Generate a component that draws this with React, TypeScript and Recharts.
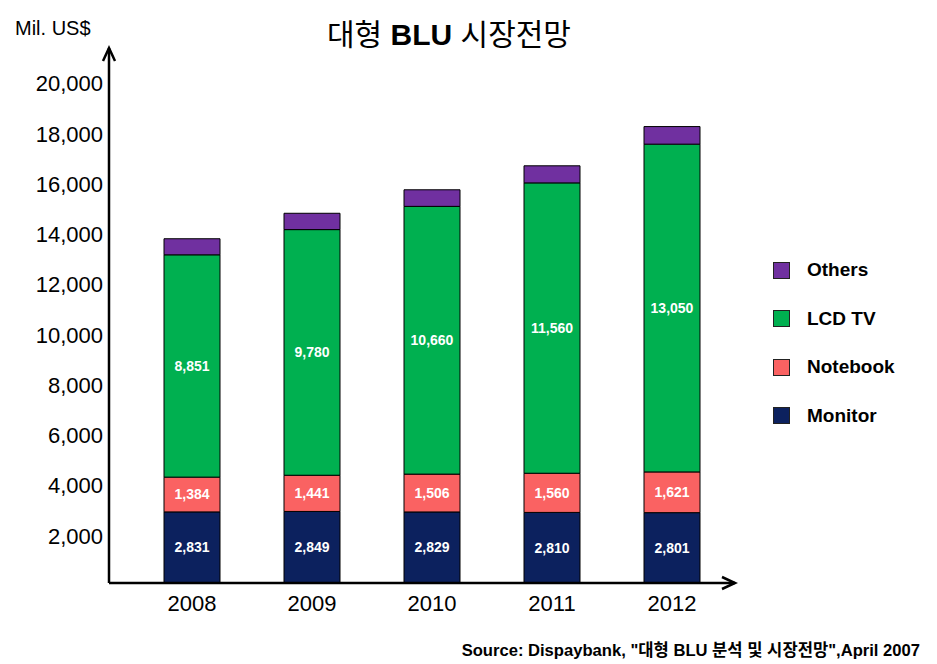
import { Bar, BarChart, LabelList, XAxis, YAxis } from "recharts";

const YEARS = ["2008", "2009", "2010", "2011", "2012"];
const MONITOR = [2831, 2849, 2829, 2810, 2801];
const NOTEBOOK = [1384, 1441, 1506, 1560, 1621];
const LCD_TV = [8851, 9780, 10660, 11560, 13050];
const OTHERS = [640, 650, 660, 680, 700];
const Y_TICKS = [2000, 4000, 6000, 8000, 10000, 12000, 14000, 16000, 18000, 20000];

// stack order bottom → top
const SERIES = [
  { key: "monitor", label: "Monitor", color: "#0C215E", values: MONITOR, showLabel: true },
  { key: "notebook", label: "Notebook", color: "#FA6262", values: NOTEBOOK, showLabel: true },
  { key: "lcd", label: "LCD TV", color: "#00B050", values: LCD_TV, showLabel: true },
  { key: "others", label: "Others", color: "#7030A0", values: OTHERS, showLabel: false },
];

const data = YEARS.map((year, i) => {
  const row: Record<string, string | number> = { year };
  for (const s of SERIES) row[s.key] = s.values[i];
  return row;
});

const FONT = '"Liberation Sans", Arial, "Noto Sans CJK KR", sans-serif';

function YArrow(props: any) {
  const vb = props.viewBox ?? {};
  const x = vb.x + vb.width;
  const y = vb.y;
  return (
    <polyline
      points={`${x - 6},${y + 13} ${x},${y} ${x + 6},${y + 13}`}
      fill="none"
      stroke="#000"
      strokeWidth={2.5}
    />
  );
}

function XArrow(props: any) {
  const vb = props.viewBox ?? {};
  const x = vb.x + vb.width;
  const y = vb.y;
  return (
    <polyline
      points={`${x - 13},${y - 6} ${x},${y} ${x - 13},${y + 6}`}
      fill="none"
      stroke="#000"
      strokeWidth={2.5}
    />
  );
}

function LegendBox() {
  const items = [...SERIES].reverse();
  return (
    <div style={{ position: "absolute", left: 773, top: 246 }}>
      {items.map((s) => (
        <div
          key={s.key}
          style={{ display: "flex", alignItems: "center", height: 48.5 }}
        >
          <span
            style={{
              width: 15,
              height: 15,
              background: s.color,
              border: "1px solid #222",
              marginRight: 17,
            }}
          />
          <span style={{ fontFamily: FONT, fontWeight: "bold", fontSize: 19, color: "#000" }}>
            {s.label}
          </span>
        </div>
      ))}
    </div>
  );
}

export default function App() {
  return (
    <div
      style={{
        position: "absolute",
        left: 0,
        top: 0,
        width: 937,
        height: 664,
        background: "#fff",
        fontFamily: FONT,
      }}
    >
      <div
        style={{
          position: "absolute",
          left: 15,
          top: 17,
          fontSize: 20,
          fontFamily: '"Liberation Sans Narrow", "Liberation Sans", Arial, sans-serif',
        }}
      >
        Mil. US$
      </div>
      <div
        style={{
          position: "absolute",
          left: 0,
          width: 898,
          top: 10,
          textAlign: "center",
          fontSize: 30,
          fontFamily: FONT,
        }}
      >
        대형 <b>BLU</b> 시장전망
      </div>
      <div
        style={{
          position: "absolute",
          right: 17,
          top: 637,
          fontSize: 16.6,
          fontWeight: "bold",
          fontFamily: FONT,
        }}
      >
        Source: Dispaybank, "대형 BLU 분석 및 시장전망",April 2007
      </div>
      <LegendBox />
      <BarChart
        width={937}
        height={664}
        data={data}
        margin={{ top: 48, right: 202, bottom: 51, left: 9 }}
        barSize={56}
        style={{ position: "absolute", left: 0, top: 0 }}
      >
        <XAxis
          dataKey="year"
          height={30}
          padding={{ left: 23, right: 3 }}
          tickLine={false}
          axisLine={{ stroke: "#000", strokeWidth: 2.5 }}
          tick={{ fill: "#000", fontSize: 22, fontFamily: FONT }}
          tickMargin={6}
          label={<XArrow />}
        />
        <YAxis
          width={100}
          domain={[0, 21300]}
          ticks={Y_TICKS}
          interval={0}
          tickLine={false}
          axisLine={{ stroke: "#000", strokeWidth: 2.5 }}
          tick={{ fill: "#000", fontSize: 22, fontFamily: FONT, dy: 3 }}
          tickMargin={0}
          tickFormatter={(v: number) => v.toLocaleString("en-US")}
          label={<YArrow />}
        />
        {SERIES.map((s) => (
          <Bar
            key={s.key}
            dataKey={s.key}
            stackId="a"
            fill={s.color}
            stroke="#000"
            strokeWidth={1}
            isAnimationActive={false}
          >
            {s.showLabel && (
              <LabelList
                dataKey={s.key}
                position="center"
                fill="#fff"
                fontSize={14}
                fontWeight="bold"
                fontFamily={FONT}
                formatter={(v: any) => Number(v).toLocaleString("en-US")}
              />
            )}
          </Bar>
        ))}
      </BarChart>
    </div>
  );
}
